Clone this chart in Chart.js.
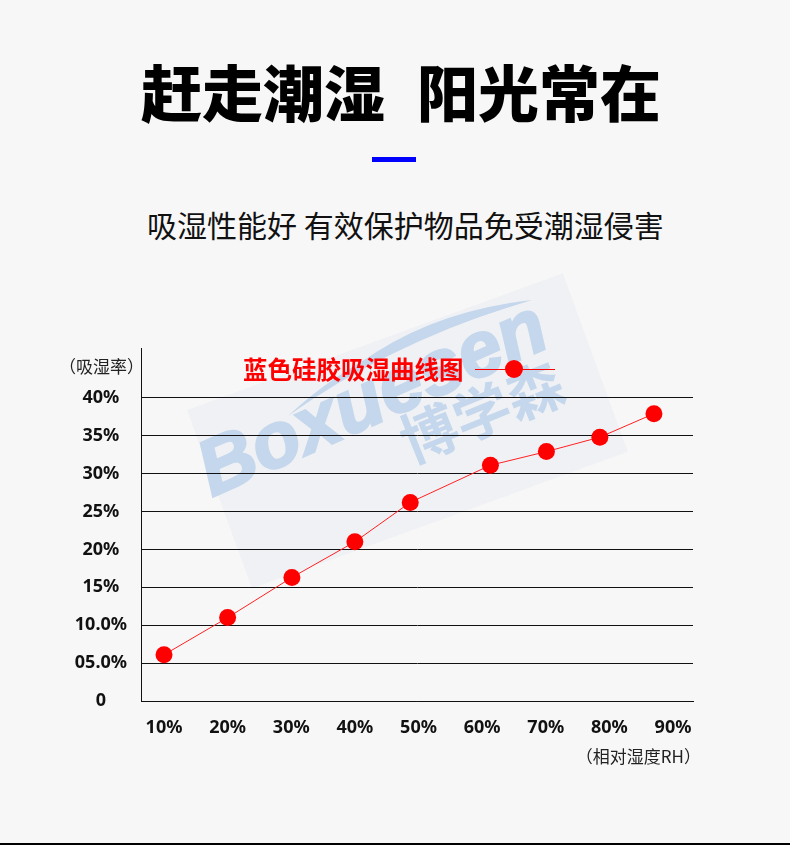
<!DOCTYPE html>
<html lang="zh-CN">
<head>
    <meta charset="UTF-8">
    <title>赶走潮湿 阳光常在</title>
    <script src="https://cdn.jsdelivr.net/npm/chart.js@4.4.1/dist/chart.umd.min.js"></script>
    <style>
        body {
            margin: 0;
            background: #f7f7f7;
            font-family: "Noto Sans CJK SC", "Noto Sans", sans-serif;
            color: #111;
        }

        .page {
            position: relative;
            width: 790px;
            height: 845px;
            overflow: hidden;
        }

        .title {
            position: absolute;
            left: 141px;
            top: 60px;
            font-size: 61px;
            line-height: 61px;
            font-weight: 900;
            color: #000;
            white-space: nowrap;
            word-spacing: 18px;
        }

        .bar {
            position: absolute;
            left: 372px;
            top: 157px;
            width: 44px;
            height: 5px;
            background: #0000ff;
        }

        .subtitle {
            position: absolute;
            left: 147px;
            top: 209px;
            font-size: 30px;
            line-height: 30px;
            white-space: nowrap;
        }

        /* watermark */
        .wm-box {
            position: absolute;
            left: 187px;
            top: 410px;
            width: 400px;
            height: 190px;
            background: rgba(225, 230, 240, 0.3);
            transform-origin: 0 0;
            transform: rotate(-20deg);
        }

        .wm-swoosh {
            position: absolute;
            left: 0;
            top: 0;
        }

        .wm-en {
            position: absolute;
            left: 212px;
            top: 431px;
            font: italic bold 78px "Liberation Sans", sans-serif;
            line-height: 78px;
            color: #c5d7ec;
            -webkit-text-stroke: 2.5px #c5d7ec;
            transform-origin: 0 66px;
            transform: rotate(-24deg);
            white-space: nowrap;
        }

        .wm-cn {
            position: absolute;
            left: 411px;
            top: 411px;
            font-size: 57px;
            line-height: 57px;
            font-weight: bold;
            color: #c5d7ec;
            transform-origin: 0 54px;
            transform: rotate(-22deg);
            white-space: nowrap;
        }

        canvas {
            position: absolute;
            left: 0;
            top: 340px;
        }

        .ylabel {
            position: absolute;
            left: 59px;
            top: 355px;
            font-size: 17px;
            line-height: 22px;
            color: #222;
        }

        .xlabel {
            position: absolute;
            right: 89px;
            top: 745px;
            font-size: 17px;
            line-height: 22px;
            color: #222;
        }

        .legend {
            position: absolute;
            left: 243px;
            top: 356px;
            font-size: 24.5px;
            line-height: 26px;
            font-weight: bold;
            color: #ff0000;
            white-space: nowrap;
        }

        .legend-line {
            position: absolute;
            left: 475px;
            top: 369px;
            width: 80px;
            height: 1px;
            background: #ff0000;
        }

        .legend-dot {
            position: absolute;
            left: 505px;
            top: 360px;
            width: 18px;
            height: 18px;
            border-radius: 50%;
            background: #ff0000;
        }

        .bottom-line {
            position: absolute;
            left: 0;
            top: 843px;
            width: 790px;
            height: 2px;
            background: #000;
        }
    </style>
</head>
<body>
<div class="page">
    <div class="title">赶走潮湿 阳光常在</div>
    <div class="bar"></div>
    <div class="subtitle">吸湿性能好 有效保护物品免受潮湿侵害</div>

    <div class="wm-box"></div>
    <svg class="wm-swoosh" width="790" height="845">
        <path d="M288,416 Q380,330 528,301 Q392,342 288,416 Z" fill="#c5d7ec"/>
        <path d="M360,363 Q432,311 532,300 Q440,328 360,363 Z" fill="#c5d7ec"/>
    </svg>
    <div class="wm-en">Boxuesen</div>
    <div class="wm-cn">博学森</div>

    <canvas id="chart" width="790" height="440"></canvas>

    <div class="ylabel">（吸湿率）</div>
    <div class="xlabel">（相对湿度RH）</div>
    <div class="legend">蓝色硅胶吸湿曲线图</div>
    <div class="legend-line"></div>
    <div class="legend-dot"></div>

    <div class="bottom-line"></div>
</div>

<script>
    // 相对湿度 (%) 与 吸湿率 (%)
    const humidity = [10, 20, 30.1, 40, 48.7, 61.3, 70.1, 78.5, 87];
    const absorption = [6.1, 11.0, 16.3, 21.0, 26.2, 31.1, 32.9, 34.8, 37.9];

    const xTickValues = [10, 20, 30, 40, 50, 60, 70, 80, 90];
    const xTickLabels = ['10%', '20%', '30%', '40%', '50%', '60%', '70%', '80%', '90%'];
    const yTickValues = [0, 5, 10, 15, 20, 25, 30, 35, 40];
    const yTickLabels = ['0', '05.0%', '10.0%', '15%', '20%', '25%', '30%', '35%', '40%'];

    const points = humidity.map((h, i) => ({ x: h, y: absorption[i] }));
    const tickFont = { family: '"Noto Sans", sans-serif', size: 18, weight: 'bold' };

    const ctx = document.getElementById('chart').getContext('2d');
    new Chart(ctx, {
        type: 'line',
        data: {
            datasets: [{
                label: '蓝色硅胶吸湿曲线图',
                data: points,
                borderColor: '#ff2020',
                borderWidth: 1,
                pointRadius: 8.5,
                pointBackgroundColor: '#ff0000',
                pointBorderWidth: 0,
                tension: 0,
                fill: false
            }]
        },
        options: {
            responsive: false,
            animation: false,
            layout: { padding: { top: 8, right: 97, left: 0, bottom: 0 } },
            plugins: {
                legend: { display: false },
                tooltip: { enabled: false }
            },
            scales: {
                x: {
                    type: 'linear',
                    min: 6.385,
                    max: 93.14,
                    afterFit: (scale) => {
                        scale.height = 79;
                        scale.paddingLeft = 0;
                        scale.paddingRight = 0;
                    },
                    afterBuildTicks: (scale) => { scale.ticks = xTickValues.map(v => ({ value: v })); },
                    grid: { display: false, drawTicks: false },
                    border: { display: true, color: '#111', width: 1 },
                    ticks: {
                        autoSkip: false,
                        maxRotation: 0,
                        padding: 16,
                        color: '#111',
                        font: tickFont,
                        callback: (v, i) => xTickLabels[i]
                    }
                },
                y: {
                    type: 'linear',
                    min: 0,
                    max: 46.5,
                    afterFit: (scale) => {
                        scale.width = 141;
                        scale.paddingTop = 0;
                        scale.paddingBottom = 0;
                    },
                    afterBuildTicks: (scale) => { scale.ticks = yTickValues.map(v => ({ value: v })); },
                    grid: { color: '#111', lineWidth: 1, drawTicks: false },
                    border: { display: true, color: '#111', width: 1 },
                    ticks: {
                        crossAlign: 'center',
                        padding: 14,
                        color: '#111',
                        font: tickFont,
                        callback: (v, i) => yTickLabels[i]
                    }
                }
            }
        }
    });
</script>
</body>
</html>
